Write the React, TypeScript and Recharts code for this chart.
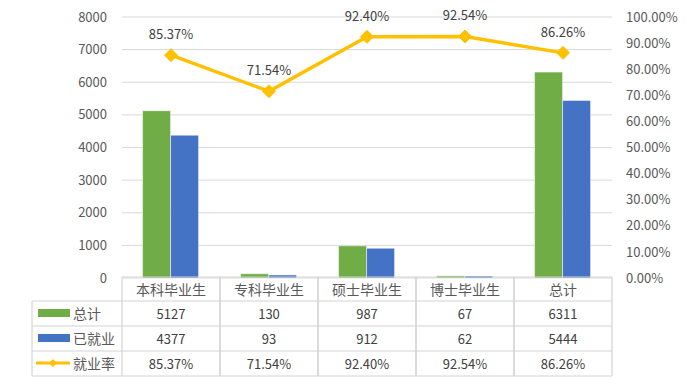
import React from 'react';
import { ComposedChart, Bar, Line, XAxis, YAxis, CartesianGrid, LabelList } from 'recharts';

const categories = ['本科毕业生', '专科毕业生', '硕士毕业生', '博士毕业生', '总计'];
const totals = [5127, 130, 987, 67, 6311];
const employed = [4377, 93, 912, 62, 5444];
const rates = [0.8537, 0.7154, 0.924, 0.9254, 0.8626];
const seriesNames = ['总计', '已就业', '就业率'];
const leftTicks = [0, 1000, 2000, 3000, 4000, 5000, 6000, 7000, 8000];
const rightTicks = [0, 0.1, 0.2, 0.3, 0.4, 0.5, 0.6, 0.7, 0.8, 0.9, 1];

const GREEN = '#70AD47';
const BLUE = '#4472C4';
const YELLOW = '#FFC000';
const GRID = '#D9D9D9';
const BORDER = '#D4D4D4';
const TEXT = '#595959';
const FONT = '"Noto Sans CJK SC", "Noto Sans", sans-serif';

const data = categories.map((name, i) => ({
  name,
  total: totals[i],
  employed: employed[i],
  rate: rates[i],
}));

const pct = (v: number) => (v * 100).toFixed(2) + '%';

const Diamond = (props: any) => {
  const { cx, cy } = props;
  if (cx == null || cy == null) return null;
  const r = 6.5;
  return (
    <polygon
      points={`${cx},${cy - r} ${cx + r},${cy} ${cx},${cy + r} ${cx - r},${cy}`}
      fill={YELLOW}
      stroke={YELLOW}
    />
  );
};

const TableTick = (props: any) => {
  const { x, y, payload } = props;
  const idx = payload?.index ?? props.index ?? 0;
  const half = payload?.offset && payload.offset > 0 ? payload.offset : 49;
  const left = x - half;
  const right = x + half;
  const rows = [y - 1, y + 23, y + 48, y + 73, y + 98];
  const rowVals = [String(totals[idx]), String(employed[idx]), pct(rates[idx])];
  const labelLeft = left - 90;
  return (
    <g>
      {rows.map((ry, i) => (
        <line key={'h' + i} x1={left} x2={right} y1={ry} y2={ry} stroke={BORDER} strokeWidth={1.2} />
      ))}
      <line x1={left} x2={left} y1={rows[0]} y2={rows[4]} stroke={BORDER} strokeWidth={1.2} />
      <line x1={right} x2={right} y1={rows[0]} y2={rows[4]} stroke={BORDER} strokeWidth={1.2} />
      <text x={x} y={y + 11} textAnchor="middle" dominantBaseline="central" fill={TEXT} fontSize={14} fontFamily={FONT}>
        {payload.value}
      </text>
      {rowVals.map((v, i) => (
        <text key={'v' + i} x={x} y={y + 35 + i * 25} textAnchor="middle" dominantBaseline="central" fill="#404040" fontSize={13} fontFamily={FONT}>
          {v}
        </text>
      ))}
      {idx === 0 && (
        <g>
          {rows.slice(1).map((ry, i) => (
            <line key={'lh' + i} x1={labelLeft} x2={left} y1={ry} y2={ry} stroke={BORDER} strokeWidth={1.2} />
          ))}
          <line x1={labelLeft} x2={labelLeft} y1={rows[1]} y2={rows[4]} stroke={BORDER} strokeWidth={1.2} />
          <rect x={labelLeft + 6} y={y + 31} width={32} height={8} fill={GREEN} />
          <rect x={labelLeft + 6} y={y + 56} width={32} height={8} fill={BLUE} />
          <line x1={labelLeft + 4} x2={labelLeft + 38} y1={y + 85} y2={y + 85} stroke={YELLOW} strokeWidth={3} />
          <polygon
            points={`${labelLeft + 21},${y + 81} ${labelLeft + 25},${y + 85} ${labelLeft + 21},${y + 89} ${labelLeft + 17},${y + 85}`}
            fill={YELLOW}
          />
          {seriesNames.map((n, i) => (
            <text key={'n' + i} x={labelLeft + 41} y={y + 35 + i * 25} textAnchor="start" dominantBaseline="central" fill={TEXT} fontSize={14} fontFamily={FONT}>
              {n}
            </text>
          ))}
        </g>
      )}
    </g>
  );
};

export default function App() {
  return (
    <div style={{ position: 'absolute', left: 0, top: 0, width: 696, height: 389, background: '#fff' }}>
      <ComposedChart
        width={696}
        height={389}
        data={data}
        margin={{ top: 17, right: 4, left: 22, bottom: 12 }}
        barCategoryGap="21%"
        barGap={0}
        style={{ fontFamily: FONT }}
      >
        <CartesianGrid vertical={false} stroke={GRID} yAxisId="left" />
        <XAxis
          dataKey="name"
          xAxisId={0}
          height={99}
          interval={0}
          tickSize={0}
          tickMargin={0}
          axisLine={false}
          tickLine={false}
          tick={(p: any) => <TableTick {...p} />}
        />
        <YAxis
          yAxisId="left"
          orientation="left"
          width={100}
          domain={[0, 8000]}
          ticks={leftTicks}
          axisLine={false}
          tickLine={false}
          tickMargin={9}
          tick={{ fill: TEXT, fontSize: 13, fontFamily: FONT }}
        />
        <YAxis
          yAxisId="right"
          orientation="right"
          width={80}
          domain={[0, 1]}
          ticks={rightTicks}
          axisLine={false}
          tickLine={false}
          tickMargin={8}
          tickFormatter={(v: number) => pct(v)}
          tick={{ fill: TEXT, fontSize: 13, fontFamily: FONT }}
        />
        <Bar yAxisId="left" dataKey="total" name={seriesNames[0]} fill={GREEN} stroke="#ffffff" strokeOpacity={0.5} isAnimationActive={false} />
        <Bar yAxisId="left" dataKey="employed" name={seriesNames[1]} fill={BLUE} stroke="#ffffff" strokeOpacity={0.5} isAnimationActive={false} />
        <Line
          yAxisId="right"
          dataKey="rate"
          name={seriesNames[2]}
          stroke={YELLOW}
          strokeWidth={3.5}
          dot={(p: any) => <Diamond key={'d' + p.index} {...p} />}
          activeDot={false}
          isAnimationActive={false}
        >
          <LabelList
            dataKey="rate"
            position="top"
            offset={16}
            formatter={(v: any) => pct(Number(v))}
            style={{ fill: '#404040', fontSize: 13, fontFamily: FONT }}
          />
        </Line>
      </ComposedChart>
    </div>
  );
}
